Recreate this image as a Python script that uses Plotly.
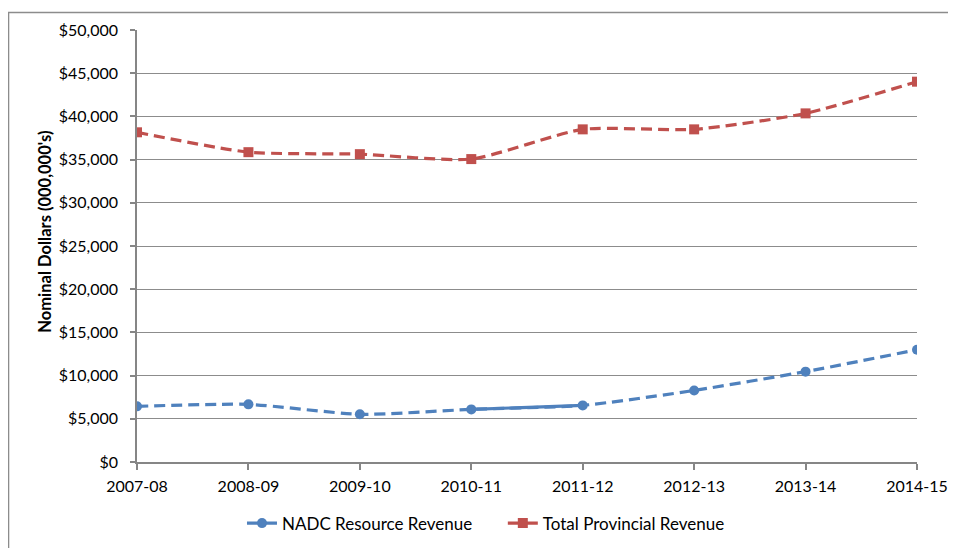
import plotly.graph_objects as go

years = ["2007-08", "2008-09", "2009-10", "2010-11", "2011-12", "2012-13", "2013-14", "2014-15"]
nadc = [6440, 6670, 5520, 6090, 6550, 8280, 10460, 12990]
total = [38160, 35860, 35630, 35060, 38500, 38500, 40350, 44020]
solid_idx = [3, 4]  # NADC segment drawn solid

BLUE = "#4F81BD"
RED = "#C0504D"
FONT = "Lato"

fig = go.Figure()

fig.add_trace(go.Scatter(
    x=years, y=nadc, mode="lines+markers", showlegend=False,
    line=dict(color=BLUE, width=3.2, dash="11px,6px", shape="spline", smoothing=0.6),
    marker=dict(symbol="circle", size=10, color=BLUE),
))
fig.add_trace(go.Scatter(
    x=[years[i] for i in solid_idx], y=[nadc[i] for i in solid_idx],
    mode="lines", showlegend=False,
    line=dict(color=BLUE, width=3.2),
))
fig.add_trace(go.Scatter(
    x=years, y=total, mode="lines+markers", showlegend=False,
    line=dict(color=RED, width=3.2, dash="11px,6px", shape="spline", smoothing=0.6),
    marker=dict(symbol="square", size=10, color=RED),
))
# legend entries (solid line samples as in the original)
fig.add_trace(go.Scatter(
    x=[None], y=[None], mode="lines+markers", name="NADC Resource Revenue",
    line=dict(color=BLUE, width=3.2), marker=dict(symbol="circle", size=10, color=BLUE),
    legend="legend",
))
fig.add_trace(go.Scatter(
    x=[None], y=[None], mode="lines+markers", name="Total Provincial Revenue",
    line=dict(color=RED, width=3.2), marker=dict(symbol="square", size=10, color=RED),
    legend="legend2",
))

fig.update_layout(
    width=956, height=548,
    margin=dict(l=129, r=47, t=19, b=94),
    paper_bgcolor="white", plot_bgcolor="white",
    font=dict(family=FONT, size=16, color="black"),
    legend=dict(orientation="h", x=0.1346, xanchor="left", y=-0.1425, yanchor="middle",
                font=dict(size=17), bgcolor="rgba(0,0,0,0)"),
    legend2=dict(orientation="h", x=0.469, xanchor="left", y=-0.1425, yanchor="middle",
                 font=dict(size=17), bgcolor="rgba(0,0,0,0)"),
    shapes=[dict(type="rect", xref="paper", yref="paper",
                 x0=-0.1647, x1=1.08, y0=-0.25, y1=1.0404,
                 line=dict(color="#8c8c8c", width=1.5), layer="below")],
    annotations=[dict(text="<b>Nominal Dollars (000,000's)</b>", textangle=-90,
                      xref="paper", yref="paper", x=-0.118, y=0.533,
                      xanchor="center", yanchor="middle", showarrow=False,
                      font=dict(size=16.5))],
)
fig.update_xaxes(
    type="category", range=[0, 7], showgrid=False,
    showline=True, linecolor="#868686", linewidth=1.5,
    ticks="outside", ticklen=6, tickcolor="#868686", tickwidth=1.5,
    tickfont=dict(size=16), tickson="labels", ticklabelstandoff=3,
)
fig.update_yaxes(
    range=[0, 50000], dtick=5000, tickprefix="$", tickformat=",",
    showgrid=True, gridcolor="#8c8c8c", gridwidth=1.2,
    showline=True, linecolor="#868686", linewidth=1.5,
    ticks="outside", ticklen=5, tickcolor="#868686", tickwidth=1.5,
    zeroline=False, tickfont=dict(size=16), ticklabelstandoff=9,
)

fig.write_html("out.html")
